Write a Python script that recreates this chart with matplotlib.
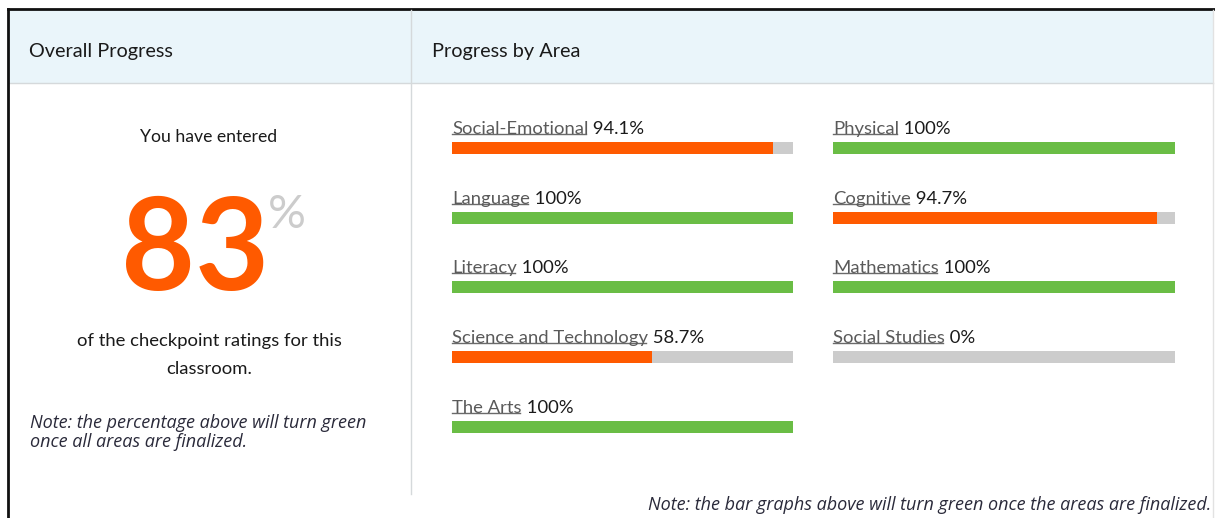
import matplotlib.pyplot as plt
from matplotlib.patches import Rectangle

plt.rcParams["font.family"] = ["Lato", "DejaVu Sans"]

# data
overall_pct = 83
left_areas = ["Social-Emotional", "Language", "Literacy", "Science and Technology", "The Arts"]
left_values = [94.1, 100, 100, 58.7, 100]
right_areas = ["Physical", "Cognitive", "Mathematics", "Social Studies"]
right_values = [100, 94.7, 100, 0]

ORANGE = "#ff5a00"
GREEN = "#6abd45"
TRACK = "#cccccc"
HEADER = "#eaf5fa"
NOTE_FONT = ["Open Sans", "DejaVu Sans"]
W, H = 1215, 518

fig = plt.figure(figsize=(W / 100, H / 100), dpi=100)
bg = fig.add_axes([0, 0, 1, 1])
bg.set_xlim(0, W)
bg.set_ylim(H, 0)
bg.axis("off")

# panel frame
bg.add_patch(Rectangle((9, 10), 1204, 73, facecolor=HEADER, edgecolor="none"))
bg.plot([9, 1213], [83, 83], color="#d5d9db", lw=1)
bg.plot([8, 8], [9, H], color="#111111", lw=2)
bg.plot([8, 1215], [9, 9], color="#111111", lw=2)
bg.plot([1213, 1213], [10, H], color="#e2e2e2", lw=1)
bg.plot([411, 411], [10, 494], color="#d5d9db", lw=1)

bg.text(29, 51, "Overall Progress", fontsize=14.3, color="#1a1a1a", va="center")
bg.text(432, 51, "Progress by Area", fontsize=14.3, color="#1a1a1a", va="center")

# overall progress
bg.text(209, 137, "You have entered", fontsize=12.7, color="#1a1a1a", ha="center", va="center")
bg.text(195, 290, str(overall_pct), fontsize=92, fontweight="bold", color=ORANGE,
        ha="center", va="baseline")
bg.text(268, 228, "%", fontsize=34, color="#cccccc", ha="left", va="baseline")
bg.text(209, 341, "of the checkpoint ratings for this", fontsize=13.3,
        color="#1a1a1a", ha="center", va="center")
bg.text(209, 369, "classroom.", fontsize=13.3, color="#1a1a1a", ha="center", va="center")
bg.text(30, 423, "Note: the percentage above will turn green", family=NOTE_FONT,
        fontsize=13, style="italic", color="#2a2a3a", va="center")
bg.text(30, 442, "once all areas are finalized.", family=NOTE_FONT,
        fontsize=13, style="italic", color="#2a2a3a", va="center")
bg.text(1211, 505, "Note: the bar graphs above will turn green once the areas are finalized.",
        family=NOTE_FONT, fontsize=13, style="italic", color="#2a2a3a", ha="right", va="center")

renderer = fig.canvas.get_renderer()
inv = bg.transData.inverted()


def draw_column(names, values, x0, width):
    for i, (name, val) in enumerate(zip(names, values)):
        top = 142 + i * 69.7
        ax = fig.add_axes([x0 / W, (H - top - 12) / H, width / W, 12 / H])
        ax.set_xlim(0, 100)
        ax.set_ylim(-0.5, 0.5)
        ax.axis("off")
        ax.barh(0, 100, height=1, color=TRACK)
        if val > 0:
            ax.barh(0, val, height=1, color=GREEN if val >= 100 else ORANGE)

        t = bg.text(x0, top - 5, name, fontsize=13.3, color="#5a5a5a", va="bottom")
        bg.annotate(" %g%%" % val, xy=(1, 0), xycoords=t, fontsize=13.3,
                    color="#1a1a1a", ha="left", va="bottom")
        bb = t.get_window_extent(renderer)
        (xa, ya), (xb, yb) = inv.transform([[bb.x0, bb.y0], [bb.x1, bb.y0]])
        bg.plot([xa, xb - 2], [ya - 3, yb - 3], color="#6a6a6a", lw=1)


draw_column(left_areas, left_values, 452, 341)
draw_column(right_areas, right_values, 833, 342)

fig.savefig("out.png", dpi=100)
